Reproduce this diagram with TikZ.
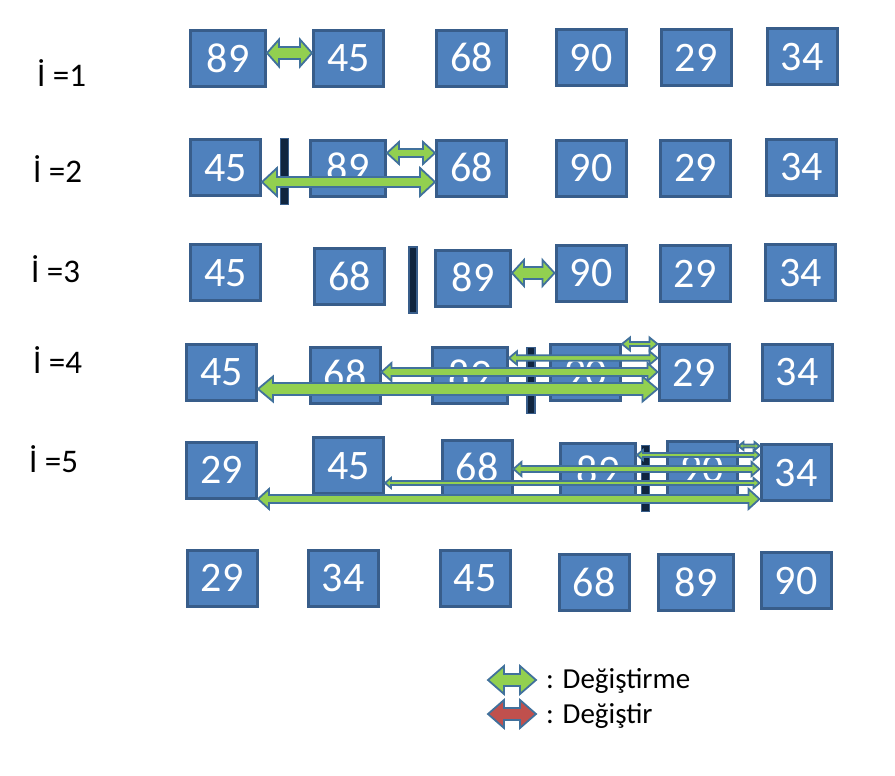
\documentclass[tikz,border=0pt]{standalone}
\usepackage{fontspec}
\setmainfont{Carlito}
\usetikzlibrary{calc}
\definecolor{boxfill}{HTML}{4F81BD}
\definecolor{boxline}{HTML}{385D8A}
\definecolor{swapfill}{HTML}{92D050}
\definecolor{swapline}{HTML}{41719C}
\definecolor{barfill}{HTML}{10253F}
\definecolor{keepfill}{HTML}{C0504D}
\newcommand\swaparrow[7][swp]{%
	\path (#2 |- 0,#4) coordinate (sL) (#3 |- 0,#4) coordinate (sR);
	\filldraw[#1] (sL) -- ++(#7,-#6) -- ++(0,#6-#5) -- ($(sR)+(-#7,-#5)$) -- ++(0,#5-#6) -- (sR)
		-- ++(-#7,#6) -- ++(0,#5-#6) -- ($(sL)+(#7,#5)$) -- ++(0,#6-#5) -- cycle;}
\begin{document}
\begin{tikzpicture}[x=1pt, y=-1pt,
	box/.style = {draw=boxline, fill=boxfill, line width=3pt, text=white, inner sep=0pt,
		minimum width=70, minimum height=56, text height=27pt, text depth=0pt,
		font=\fontsize{42}{42}\selectfont},
	wide/.style = {box, minimum width=75},
	bar/.style = {draw=boxline, fill=barfill, line width=1.5pt, inner sep=0pt, minimum width=8, minimum height=66},
	lbl/.style = {anchor=base west, inner sep=0pt, font=\fontsize{33}{33}\selectfont},
	key/.style = {anchor=base west, inner sep=0pt, font=\fontsize{29}{29}\selectfont},
	swp/.style = {draw=swapline, fill=swapfill, line width=1.8pt, line join=miter},
	keep/.style = {swp, fill=keepfill}]
	\useasboundingbox (0,0) rectangle (895,776);

	\node[lbl] (i1) at (37,87) {İ =1};
	\node[lbl] (i2) at (33,182) {İ =2};
	\node[lbl] (i3) at (31,282) {İ =3};
	\node[lbl] (i4) at (33,373) {İ =4};
	\node[lbl] (i5) at (29,472) {İ =5};

	\node[wide] (r1a) at (228,59) {89};
	\node[box] (r1b) at (348.5,58.5) {45};
	\node[box] (r1c) at (471.5,58.5) {68};
	\node[box] (r1d) at (591,58) {90};
	\node[box] (r1e) at (696,58) {29};
	\node[box] (r1f) at (802,57) {34};
	\swaparrow{r1a.east}{r1b.west}{53}{6}{13.5}{12}

	\node[box] (r2a) at (225.5,167.5) {45};
	\node[wide] (r2b) at (348,168) {89};
	\node[box] (r2c) at (471.5,168) {68};
	\node[box] (r2d) at (591,168) {90};
	\node[box] (r2e) at (695.5,168) {29};
	\node[box] (r2f) at (801.5,167) {34};
	\node[bar] (b2) at (284.5,171.5) {};
	\swaparrow{r2b.east}{r2c.west}{153}{4}{11}{12}
	\swaparrow{r2a.east}{r2c.west}{182}{5}{14}{15}

	\node[box] (r3a) at (225.5,272.5) {45};
	\node[box] (r3b) at (349.5,276.5) {68};
	\node[wide] (r3c) at (473,278) {89};
	\node[box] (r3d) at (591,273) {90};
	\node[box] (r3e) at (695,273.5) {29};
	\node[box] (r3f) at (800.5,272.5) {34};
	\node[bar] (b3) at (413,280) {};
	\swaparrow{r3c.east}{r3d.west}{273}{6}{13}{12}

	\node[box] (r4a) at (221.5,372) {45};
	\node[box] (r4b) at (345,375) {68};
	\node[wide] (r4c) at (470,375) {89};
	\node[box] (r4d) at (585.5,372.5) {90};
	\node[box] (r4e) at (694,372.5) {29};
	\node[box] (r4f) at (797,372) {34};
	\node[bar] (b4) at (531,380.5) {};
	\swaparrow{r4d.east}{r4e.west}{344}{2}{6.5}{8}
	\swaparrow{r4c.east}{r4e.west}{358}{2.8}{6.7}{8}
	\swaparrow{r4b.east}{r4e.west}{372}{4}{9}{10}
	\swaparrow{r4a.east}{r4e.west}{389}{6}{12.5}{15}

	\node[box] (r5a) at (221.5,470) {29};
	\node[box] (r5b) at (348.5,465.5) {45};
	\node[box] (r5c) at (477,468) {68};
	\node[wide] (r5d) at (598,471) {89};
	\node[box] (r5e) at (702,469) {90};
	\node[box] (r5f) at (796,472.5) {34};
	\node[bar] (b5) at (645.5,478.5) {};
	\swaparrow{r5e.east}{r5f.west}{446}{1.5}{4}{5}
	\swaparrow{r5d.east}{r5f.west}{455}{2}{5}{6}
	\swaparrow{r5c.east}{r5f.west}{469}{3}{7}{8}
	\swaparrow{r5b.east}{r5f.west}{483}{2}{5}{6}
	\swaparrow{r5a.east}{r5f.west}{499}{4}{10}{11}

	\node[box] (r6a) at (222,578) {29};
	\node[box] (r6b) at (343,578) {34};
	\node[box] (r6c) at (475,578) {45};
	\node[box] (r6d) at (594,582.5) {68};
	\node[wide] (r6e) at (696,582.5) {89};
	\node[box] (r6f) at (796,580.5) {90};

	\coordinate (kA) at (488,0);
	\coordinate (kB) at (536,0);
	\swaparrow{kA}{kB}{680}{6}{14}{16}
	\swaparrow[keep]{kA}{kB}{714}{6}{14}{16}
	\node[key] (k1) at (546,688) {: Değiştirme};
	\node[key] (k2) at (546,723) {: Değiştir};
\end{tikzpicture}
\end{document}
